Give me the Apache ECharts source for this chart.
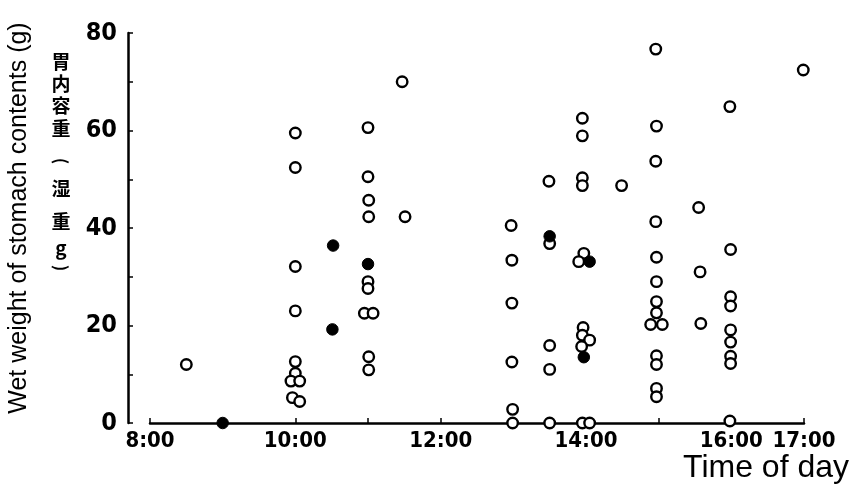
<!DOCTYPE html>
<html><head><meta charset="utf-8">
<script src="https://cdn.jsdelivr.net/npm/echarts@6/dist/echarts.min.js"></script>
<style>html,body{margin:0;padding:0;background:#fff}#c{width:857px;height:489px}</style>
</head><body><div id="c"></div>
<script>
// time in decimal hours, wet weight in g
const openPoints = [
  [8.5, 12],
  [10, 59.5], [10, 52.4], [10, 32.1], [10, 23.0], [10, 12.6], [10, 10.2], [9.94, 8.6], [10.06, 8.6], [9.96, 5.2], [10.06, 4.4],
  [11, 60.6], [11, 50.5], [11.01, 45.7], [11.01, 42.3], [11, 29.0], [11, 27.6], [10.95, 22.5], [11.07, 22.5], [11.01, 13.6], [11.01, 10.9],
  [11.47, 70.0], [11.51, 42.3],
  [12.97, 40.5], [12.98, 33.4], [12.98, 24.6], [12.98, 12.5], [12.99, 2.8], [12.99, 0],
  [13.49, 49.6], [13.5, 36.8], [13.5, 15.9], [13.5, 11.0], [13.5, 0],
  [13.95, 62.5], [13.95, 58.9], [13.95, 50.3], [13.95, 48.7], [13.97, 34.8], [13.9, 33.1],
  [13.96, 19.6], [13.95, 18.0], [14.05, 17.0], [13.94, 15.7], [13.95, 0], [14.05, 0],
  [14.49, 48.7],
  [14.96, 76.7], [14.97, 60.9], [14.96, 53.7], [14.96, 41.3], [14.97, 34.0], [14.97, 29.0], [14.97, 24.9], [14.97, 22.6],
  [14.89, 20.2], [15.05, 20.2], [14.97, 13.8], [14.97, 12.0], [14.97, 7.1], [14.97, 5.4],
  [15.55, 44.2], [15.57, 31.0], [15.58, 20.4],
  [15.98, 64.9], [15.99, 35.6], [15.99, 25.9], [15.99, 24.0], [15.99, 19.1], [15.99, 16.6], [15.99, 13.7], [15.99, 12.2], [15.98, 0.4],
  [16.99, 72.4]
];
const filledPoints = [
  [9.0, 0], [10.52, 36.4], [10.51, 19.2], [11.0, 32.6], [13.5, 38.3], [14.05, 33.1], [13.97, 13.5]
];
const xLabelHours = [8, 10, 12, 14, 16, 17];
const yTicks = [0, 20, 40, 60, 80];
const yTitle = 'Wet weight of stomach contents (g)';
// vertical Japanese label: 胃内容重(湿重g)
const jpChars = ['胃', '内', '容', '重', '(', '湿', '重', 'g', ')'];
const jpY = [62, 84, 106, 129, 161, 189, 222, 248, 268];

const numFont = '"DejaVu Sans Condensed", "Liberation Sans Narrow", sans-serif';
const chart = echarts.init(document.getElementById('c'));
const jpGraphics = jpChars.map((ch, i) => {
  const paren = (ch === '(' || ch === ')');
  return {
    type: 'text', x: 61, y: jpY[i],
    rotation: paren ? -Math.PI / 2 : 0,
    style: {text: ch, align: 'center', verticalAlign: 'middle',
            fontFamily: '"Noto Sans CJK JP", sans-serif', fontWeight: 'bold',
            fontSize: paren ? 17 : 19, fill: '#000'}
  };
});
chart.setOption({
  backgroundColor: '#fff',
  animation: false,
  title: {
    text: 'Time of day', right: 3, bottom: 0,
    textStyle: {fontFamily: '"Liberation Sans", Arial, sans-serif', fontSize: 32, fontWeight: 'normal', color: '#000'}
  },
  grid: {left: 150, right: 53, top: 33, bottom: 66},
  xAxis: {
    type: 'value', min: 8, max: 17, interval: 1,
    axisLine: {lineStyle: {color: '#000', width: 2.5}},
    axisTick: {inside: true, length: 5, lineStyle: {color: '#000', width: 1.5}},
    splitLine: {show: false},
    axisLabel: {
      margin: 7, color: '#000', fontFamily: numFont, fontWeight: 'bold', fontSize: 22,
      formatter: v => xLabelHours.includes(v) ? v + ':00' : ''
    }
  },
  yAxis: {
    type: 'value', min: 0, max: 80, interval: 20, offset: 22,
    axisLine: {show: true, lineStyle: {color: '#000', width: 2.5}},
    axisTick: {show: true, inside: true, length: 5, lineStyle: {color: '#000', width: 1.5}},
    minorTick: {show: true, splitNumber: 2, length: 5, lineStyle: {color: '#000', width: 1.5}},
    splitLine: {show: false},
    axisLabel: {
      margin: 11, color: '#000', fontFamily: numFont, fontWeight: 'bold', fontSize: 25,
      formatter: v => yTicks.includes(v) ? String(v) : ''
    }
  },
  graphic: [{
    type: 'text', x: 19, y: 218, rotation: Math.PI / 2,
    style: {text: yTitle, align: 'center', verticalAlign: 'middle',
            fontFamily: '"Liberation Sans", Arial, sans-serif', fontSize: 25, fill: '#000'}
  }].concat(jpGraphics),
  series: [
    {type: 'scatter', data: openPoints, symbol: 'circle', symbolSize: 10.5,
     itemStyle: {color: '#fff', borderColor: '#000', borderWidth: 2.4, opacity: 1}},
    {type: 'scatter', data: filledPoints, symbol: 'circle', symbolSize: 11.5,
     itemStyle: {color: '#000', borderColor: '#000', borderWidth: 1, opacity: 1}}
  ]
});
</script></body></html>
